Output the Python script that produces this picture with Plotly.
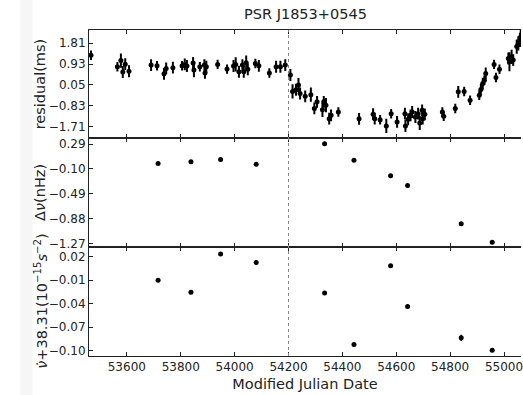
import plotly.graph_objects as go
from plotly.subplots import make_subplots

# ---- data ----
res_mjd = [53467, 53565, 53578, 53585, 53594, 53608, 53690, 53712, 53738, 53746,
           53771, 53805, 53815, 53823, 53846, 53849, 53871, 53888, 53890, 53895,
           53937, 53972, 53996, 54004, 54016, 54029, 54034, 54043, 54049, 54077,
           54090, 54129, 54154, 54170, 54188, 54207, 54215, 54228, 54237, 54243,
           54262, 54283, 54296, 54306, 54326, 54331, 54339, 54351, 54358, 54385,
           54462, 54514, 54520, 54540, 54563, 54581, 54603, 54632, 54634, 54644,
           54653, 54659, 54671, 54681, 54687, 54696, 54698, 54706, 54771, 54776,
           54819, 54830, 54852, 54874, 54908, 54914, 54921, 54927, 54932, 54963,
           54970, 54983, 55016, 55020, 55028, 55034, 55047, 55053, 55059, 55062]
res_val = [1.31, 0.82, 1.08, 0.60, 0.93, 0.63, 0.89, 0.86, 0.52, 0.75,
           0.78, 0.86, 0.92, 0.85, 0.98, 0.68, 0.82, 0.89, 0.56, 0.82,
           0.92, 0.72, 0.85, 0.92, 0.61, 0.89, 0.61, 0.99, 0.71, 0.96,
           0.86, 0.56, 0.82, 0.82, 0.89, 0.47, -0.22, -0.15, 0.05, -0.31,
           -0.43, -0.36, -0.94, -0.66, -1.00, -0.66, -0.80, -1.37, -1.23, -1.09,
           -1.38, -1.18, -1.37, -1.42, -1.68, -1.16, -1.51, -1.16, -1.68, -1.40,
           -1.23, -1.09, -1.30, -1.16, -1.55, -1.02, -1.37, -1.19, -1.09, -1.27,
           -0.94, -0.24, -0.22, -0.59, -0.38, -0.14, 0.11, 0.25, 0.54, 0.92,
           0.37, 0.71, 1.17, 1.03, 1.24, 1.10, 1.67, 1.81, 1.95, 2.09]
res_err = [0.2, 0.2, 0.3, 0.25, 0.25, 0.25, 0.25, 0.2, 0.25, 0.25,
           0.25, 0.2, 0.25, 0.25, 0.25, 0.3, 0.2, 0.25, 0.25, 0.25,
           0.2, 0.2, 0.25, 0.3, 0.25, 0.25, 0.25, 0.3, 0.25, 0.2,
           0.25, 0.2, 0.25, 0.25, 0.25, 0.25, 0.3, 0.25, 0.3, 0.25,
           0.25, 0.3, 0.25, 0.25, 0.3, 0.25, 0.3, 0.25, 0.25, 0.2,
           0.25, 0.25, 0.25, 0.2, 0.3, 0.2, 0.25, 0.25, 0.25, 0.25,
           0.25, 0.25, 0.25, 0.25, 0.3, 0.25, 0.25, 0.25, 0.2, 0.2,
           0.2, 0.25, 0.2, 0.2, 0.2, 0.25, 0.25, 0.2, 0.25, 0.2,
           0.2, 0.2, 0.25, 0.4, 0.3, 0.25, 0.3, 0.3, 0.3, 0.3]

fit_mjd = [53716, 53838, 53948, 54080, 54334, 54443, 54579, 54642, 54841, 54956]
dnu_val = [-0.015, 0.01, 0.046, -0.028, 0.295, 0.035, -0.21, -0.363, -0.963, -1.255]
dnu_err = [0.005, 0.005, 0.005, 0.005, 0.005, 0.005, 0.006, 0.006, 0.01, 0.008]
nudot_val = [-0.0101, -0.0254, 0.0235, 0.0128, -0.0264, -0.0923, 0.0085, -0.0435, -0.0836, -0.0996]
nudot_err = [0.0008, 0.0008, 0.0008, 0.0008, 0.0008, 0.0008, 0.0008, 0.0008, 0.004, 0.0008]

x_ticks = [53600, 53800, 54000, 54200, 54400, 54600, 54800, 55000]
res_ticks = [1.81, 0.93, 0.05, -0.83, -1.71]
dnu_ticks = [0.29, -0.10, -0.49, -0.88, -1.27]
nudot_ticks = [0.02, -0.01, -0.04, -0.07, -0.10]
glitch_mjd = 54200

FONT = "DejaVu Sans"


def fmt(v):
    s = f"{v:.2f}"
    return s.replace("-", "\u2212")


fig = make_subplots(rows=3, cols=1, shared_xaxes=True, vertical_spacing=0)

fig.add_trace(go.Scatter(x=res_mjd, y=res_val, mode="markers",
                         marker=dict(color="black", size=5),
                         error_y=dict(type="data", array=res_err, color="black",
                                      thickness=2, width=0),
                         showlegend=False), row=1, col=1)
fig.add_trace(go.Scatter(x=fit_mjd, y=dnu_val, mode="markers",
                         marker=dict(color="black", size=5),
                         error_y=dict(type="data", array=dnu_err, color="black",
                                      thickness=1.5, width=0),
                         showlegend=False), row=2, col=1)
fig.add_trace(go.Scatter(x=fit_mjd, y=nudot_val, mode="markers",
                         marker=dict(color="black", size=5),
                         error_y=dict(type="data", array=nudot_err, color="black",
                                      thickness=1.5, width=0),
                         showlegend=False), row=3, col=1)

xcommon = dict(range=[53459.6, 55062.9], tickvals=x_ticks,
               ticktext=[str(v) for v in x_ticks], ticks="inside",
               ticklen=4, tickcolor="#222", showline=True, linecolor="#222",
               linewidth=1, mirror="ticks", showgrid=False, zeroline=False,
               ticklabeloverflow="allow",
               tickfont=dict(family=FONT, size=12, color="#222"))
for r in (1, 2, 3):
    fig.update_xaxes(row=r, col=1, **xcommon)
fig.update_xaxes(row=1, col=1, showticklabels=False)
fig.update_xaxes(row=2, col=1, showticklabels=False)
fig.update_xaxes(row=3, col=1, title=dict(text="Modified Julian Date",
                                           font=dict(family=FONT, size=14.5, color="#222"),
                                           standoff=5))

ycommon = dict(ticks="inside", ticklen=4, tickcolor="#222", showline=True,
               linecolor="#222", linewidth=1, showgrid=False, zeroline=False,
               tickfont=dict(family=FONT, size=12, color="#222"))
fig.update_yaxes(row=1, col=1, range=[-2.200, 2.371], tickvals=res_ticks,
                 ticktext=[fmt(v) for v in res_ticks], **ycommon)
fig.update_yaxes(row=2, col=1, range=[-1.333, 0.380], tickvals=dnu_ticks,
                 ticktext=[fmt(v) for v in dnu_ticks], **ycommon)
fig.update_yaxes(row=3, col=1, range=[-0.1069, 0.0321], tickvals=nudot_ticks,
                 ticktext=[fmt(v) for v in nudot_ticks], **ycommon)

fig.update_layout(
    yaxis=dict(domain=[0.6678, 1.0]),
    yaxis2=dict(domain=[0.3334, 0.6678]),
    yaxis3=dict(domain=[0.0, 0.3334]),
)

# glitch epoch line
fig.add_shape(type="line", xref="x", yref="paper", x0=glitch_mjd, x1=glitch_mjd,
              y0=0, y1=1, line=dict(color="#888", width=1, dash="dot"))
# faint strip on the left
fig.add_shape(type="rect", xref="paper", yref="paper", x0=-0.159, x1=-0.131,
              y0=-0.13, y1=1.1, line=dict(width=0), fillcolor="#f6f6f6", layer="below")

titles = [("residual(ms)", 0.834), ("\u0394<i>\u03bd</i>(nHz)", 0.5006),
          ("<i>\u03bd\u0307</i>+38.31(10<sup>\u221215</sup><i>s</i><sup>\u22122</sup>)", 0.1667)]
for txt, yy in titles:
    fig.add_annotation(text=txt, xref="paper", yref="paper", x=-0.113, y=yy,
                       xanchor="center", yanchor="middle", textangle=-90,
                       showarrow=False, font=dict(family=FONT, size=14.5, color="#222"))

fig.add_annotation(text="PSR J1853+0545", xref="paper", yref="paper", x=0.5, y=1.0,
                   yshift=6, xanchor="center", yanchor="bottom", showarrow=False,
                   font=dict(family=FONT, size=14.5, color="#222"))

fig.update_layout(width=523, height=395, margin=dict(l=89, r=0, t=30, b=39),
                  plot_bgcolor="white", paper_bgcolor="white", showlegend=False)

fig.write_html("out.html")
